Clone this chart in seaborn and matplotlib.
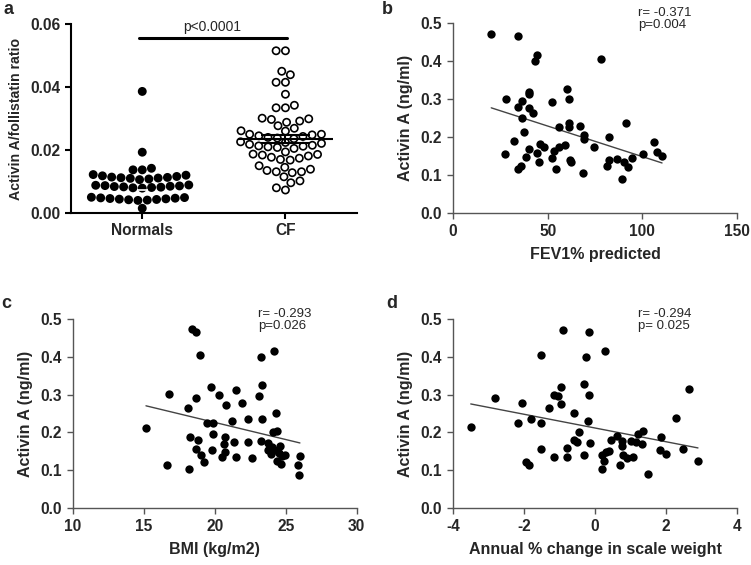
import numpy as np
import pandas as pd
import matplotlib
matplotlib.use("Agg")
import matplotlib.pyplot as plt
import seaborn as sns

# ---------------- data ----------------
groups = ["Normals", "CF"]
normals_ratio = [0.0040, 0.0041, 0.0042, 0.0043, 0.0044, 0.0045, 0.0046, 0.0047, 0.0048, 0.0049, 0.0050,
                 0.0079, 0.0080, 0.0081, 0.0082, 0.0083, 0.0084, 0.0085, 0.0086, 0.0087, 0.0088, 0.0089,
                 0.0106, 0.0108, 0.0110, 0.0111, 0.0112, 0.0113, 0.0114, 0.0116, 0.0118, 0.0120, 0.0122,
                 0.0015, 0.0137, 0.0137, 0.0142, 0.0193, 0.0386]
cf_ratio = [0.0515, 0.0515, 0.0439, 0.0450, 0.0415, 0.0415, 0.0377, 0.0342, 0.0334, 0.0334,
            0.0299, 0.0292, 0.0277, 0.0269, 0.0288, 0.0297, 0.0301,
            0.0260, 0.0261, 0.0250, 0.0250, 0.0248, 0.0245, 0.0243, 0.0240, 0.0238, 0.0236,
            0.0226, 0.0224, 0.0221, 0.0218, 0.0215, 0.0213, 0.0212, 0.0210, 0.0208, 0.0205,
            0.0194, 0.0187, 0.0186, 0.0184, 0.0181, 0.0177, 0.0174, 0.0170, 0.0168,
            0.0150, 0.0145, 0.0139, 0.0135, 0.0131, 0.0131, 0.0128,
            0.0115, 0.0102, 0.0096, 0.0080, 0.0073]
group_mean = [0.0072, 0.0234]
cf_sem = 0.0013
p_text = "p<0.0001"

fev1 = [20.2, 34.3, 44.3, 43.4, 78.4, 28.1, 36.2, 34.1, 40.2, 40.2, 40.1, 42.4, 36.2, 52.2, 60.1, 61.3, 61.3, 61.3,
        56.1, 67.1, 69.2, 69.2, 91.4, 82.4, 37.3, 32.2, 27.4, 40.2, 38.3, 44.1, 45.3, 46.0, 48.3, 53.1, 55.9, 59.4,
        52.2, 54.3, 61.9, 62.2, 34.4, 36.0, 68.4, 74.3, 81.4, 82.6, 86.5, 90.2, 92.3, 94.4, 89.3, 100.4, 106.3, 107.6, 110.4]
activin_b = [0.472, 0.465, 0.415, 0.399, 0.404, 0.301, 0.296, 0.278, 0.319, 0.312, 0.275, 0.263, 0.250, 0.292, 0.327,
             0.299, 0.237, 0.227, 0.226, 0.230, 0.205, 0.196, 0.236, 0.201, 0.212, 0.189, 0.154, 0.169, 0.148, 0.158,
             0.135, 0.182, 0.175, 0.162, 0.175, 0.180, 0.144, 0.116, 0.139, 0.133, 0.116, 0.123, 0.104, 0.175, 0.125,
             0.139, 0.142, 0.135, 0.120, 0.144, 0.089, 0.156, 0.187, 0.160, 0.151]

bmi = [15.16, 16.81, 16.65, 18.09, 18.23, 18.21, 18.37, 18.67, 18.93, 18.67, 18.84, 18.67, 19.00, 19.23, 19.47,
       19.91, 19.77, 20.28, 19.91, 19.84, 20.53, 20.70, 20.65, 20.70, 20.81, 21.23, 21.53, 21.91, 21.33, 21.47,
       22.37, 22.37, 22.60, 23.14, 23.30, 23.30, 23.28, 23.28, 24.21, 24.30, 24.12, 24.37, 23.77, 24.00, 23.72,
       23.95, 24.19, 24.60, 24.53, 24.72, 24.98, 24.42, 24.70, 26.00, 25.86, 25.91]
activin_c = [0.212, 0.301, 0.115, 0.264, 0.189, 0.103, 0.474, 0.466, 0.405, 0.292, 0.179, 0.156, 0.139, 0.122, 0.225,
             0.225, 0.320, 0.298, 0.195, 0.153, 0.134, 0.147, 0.168, 0.187, 0.273, 0.229, 0.313, 0.278, 0.175, 0.135,
             0.235, 0.174, 0.131, 0.295, 0.326, 0.236, 0.178, 0.400, 0.415, 0.250, 0.200, 0.205, 0.172, 0.161, 0.154,
             0.144, 0.154, 0.163, 0.146, 0.137, 0.140, 0.125, 0.117, 0.137, 0.115, 0.088]

weight_change = [-3.50, -2.81, -2.07, -2.16, -1.81, -1.52, -1.52, -1.93, -1.87, -1.52, -1.15, -1.30, -1.16, -1.03,
                 -0.97, -0.96, -0.91, -0.58, -0.78, -0.78, -0.60, -0.50, -0.44, -0.32, -0.32, -0.26, -0.17, -0.17,
                 -0.20, -0.15, 0.27, 0.19, 0.26, 0.21, 0.31, 0.39, 0.44, 0.62, 0.71, 0.75, 0.77, 0.79, 0.90, 1.07,
                 1.01, 1.16, 1.22, 1.33, 1.36, 1.49, 1.86, 1.84, 2.01, 2.28, 2.47, 2.65, 2.90]
activin_d = [0.213, 0.292, 0.279, 0.226, 0.236, 0.226, 0.404, 0.121, 0.113, 0.156, 0.134, 0.264, 0.300, 0.296,
             0.320, 0.274, 0.472, 0.250, 0.160, 0.136, 0.179, 0.175, 0.201, 0.141, 0.327, 0.400, 0.465, 0.300,
             0.230, 0.173, 0.415, 0.140, 0.125, 0.103, 0.147, 0.150, 0.179, 0.190, 0.114, 0.178, 0.164, 0.141,
             0.132, 0.135, 0.177, 0.175, 0.197, 0.169, 0.205, 0.090, 0.187, 0.154, 0.143, 0.237, 0.156, 0.314, 0.123]

stats_b = "r= -0.371\np=0.004"
stats_c = "r= -0.293\np=0.026"
stats_d = "r= -0.294\np= 0.025"

# ---------------- style ----------------
sns.set_style("ticks")
plt.rcParams['font.family'] = ['Liberation Sans', 'DejaVu Sans']
plt.rcParams['axes.labelweight'] = 'bold'
plt.rcParams['axes.unicode_minus'] = False

fig = plt.figure(figsize=(7.51, 5.65), dpi=100)
axA = fig.add_axes([0.0941, 0.6230, 0.3813, 0.3345])
axB = fig.add_axes([0.6032, 0.6230, 0.3782, 0.3363])
axC = fig.add_axes([0.0968, 0.1009, 0.3782, 0.3345])
axD = fig.add_axes([0.6032, 0.1009, 0.3782, 0.3345])

TFS = 11.2
LFS = 11.5

# ---------------- panel a ----------------
dfA = pd.DataFrame({
    "group": [groups[0]] * len(normals_ratio) + [groups[1]] * len(cf_ratio),
    "ratio": normals_ratio + cf_ratio,
})
sns.swarmplot(data=dfA, x="group", y="ratio", hue="group", order=groups,
              palette={"Normals": "black", "CF": "white"}, edgecolor="black",
              linewidth=1.2, size=5.2, ax=axA, legend=False, warn_thresh=1.0)
# mean / sem lines
axA.hlines(group_mean[0], -0.04, 0.04, color="white", lw=1.2, zorder=5)
axA.hlines(group_mean[1], 1 - 0.33, 1 + 0.33, color="black", lw=1.5, zorder=5)
axA.hlines([group_mean[1] - cf_sem, group_mean[1] + cf_sem], 1 - 0.17, 1 + 0.17, color="black", lw=1.5, zorder=5)
axA.vlines(1, group_mean[1] - cf_sem, group_mean[1] + cf_sem, color="black", lw=1.5, zorder=5)
# significance
axA.plot([-0.026, 1.014], [0.0556, 0.0556], color="black", lw=2.2, clip_on=False)
axA.text(0.49, 0.0567, p_text, ha="center", va="bottom", fontsize=10)
axA.set_xlim(-0.5, 1.5)
axA.set_ylim(0, 0.06)
axA.set_yticks([0, 0.02, 0.04, 0.06])
axA.set_yticklabels(["0.00", "0.02", "0.04", "0.06"])
axA.set_xlabel("")
axA.set_ylabel("Activin A/follistatin ratio", fontsize=10.2, labelpad=5)
for s in ["top", "right"]:
    axA.spines[s].set_visible(False)
for s in ["left", "bottom"]:
    axA.spines[s].set_linewidth(1.5)
    axA.spines[s].set_color("black")
axA.tick_params(width=1.5, length=4, color="black", labelsize=TFS)
for lab in axA.get_xticklabels() + axA.get_yticklabels():
    lab.set_fontweight("bold")

# ---------------- scatter panels ----------------
def scatter_panel(ax, x, y, xlim, xticks, xlabel, stats, ty):
    sns.scatterplot(x=x, y=y, color="black", s=36, edgecolor="black", linewidth=0, ax=ax, zorder=3)
    sns.regplot(x=x, y=y, scatter=False, ci=None, truncate=True, ax=ax,
                line_kws=dict(color="#444444", lw=1.0, zorder=2))
    ax.set_xlim(*xlim)
    ax.set_ylim(0, 0.5)
    ax.set_xticks(xticks)
    ax.set_yticks([0, 0.1, 0.2, 0.3, 0.4, 0.5])
    ax.set_yticklabels(["0.0", "0.1", "0.2", "0.3", "0.4", "0.5"])
    ax.set_xlabel(xlabel, fontsize=LFS, labelpad=6)
    ax.set_ylabel("Activin A (ng/ml)", fontsize=LFS, labelpad=5)
    for s in ["top", "right"]:
        ax.spines[s].set_visible(False)
    for s in ["left", "bottom"]:
        ax.spines[s].set_linewidth(1.0)
        ax.spines[s].set_color("#555555")
    ax.tick_params(width=1.0, length=4, color="#555555", labelsize=TFS, pad=4)
    for lab in ax.get_xticklabels() + ax.get_yticklabels():
        lab.set_fontweight("bold")
    ax.text(0.652, ty, stats, transform=ax.transAxes, ha="left", va="top",
            fontsize=9.5, linespacing=1.05)

scatter_panel(axB, fev1, activin_b, (0, 150), [0, 50, 100, 150], "FEV1% predicted", stats_b, 1.085)
scatter_panel(axC, bmi, activin_c, (10, 30), [10, 15, 20, 25, 30], "BMI (kg/m2)", stats_c, 1.06)
scatter_panel(axD, weight_change, activin_d, (-4, 4), [-4, -2, 0, 2, 4],
              "Annual % change in scale weight", stats_d, 1.06)

# panel letters
for lbl, x, y in [("a", 0.004, 0.998), ("b", 0.508, 0.998), ("c", 0.002, 0.478), ("d", 0.514, 0.478)]:
    fig.text(x, y, lbl, fontsize=13, fontweight="bold", ha="left", va="top")

fig.savefig("out.png", dpi=100)
